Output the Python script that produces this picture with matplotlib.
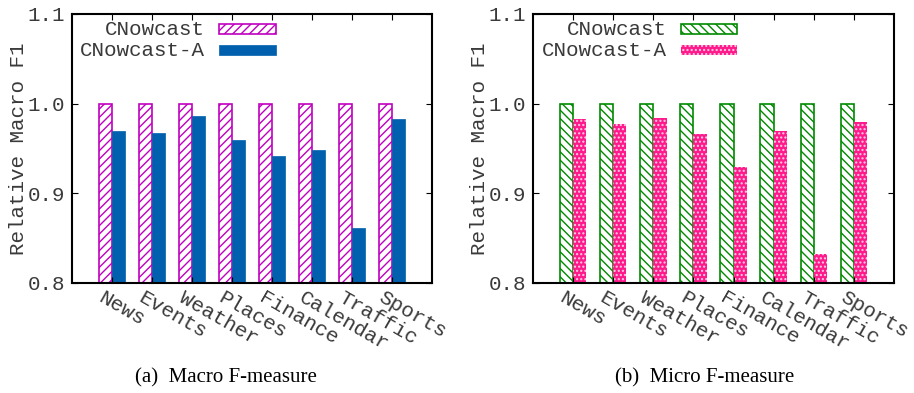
import matplotlib
matplotlib.use('Agg')
import matplotlib.pyplot as plt
import matplotlib.transforms as mtransforms
from matplotlib.patches import Rectangle
import numpy as np

# data
categories = ['News', 'Events', 'Weather', 'Places', 'Finance', 'Calendar', 'Traffic', 'Sports']
macro_cnowcast = [1.0, 1.0, 1.0, 1.0, 1.0, 1.0, 1.0, 1.0]
macro_cnowcast_a = [0.970, 0.967, 0.986, 0.959, 0.942, 0.948, 0.861, 0.983]
micro_cnowcast = [1.0, 1.0, 1.0, 1.0, 1.0, 1.0, 1.0, 1.0]
micro_cnowcast_a = [0.983, 0.977, 0.984, 0.966, 0.929, 0.970, 0.832, 0.980]
series_names = ['CNowcast', 'CNowcast-A']
y_ticks = [0.8, 0.9, 1.0, 1.1]

mono = 'Liberation Mono'
fs = 15
txt_col = '#3a3a3a'
plt.rcParams['hatch.linewidth'] = 1.0

fig = plt.figure(figsize=(9.14, 3.93), dpi=100)
ax1 = fig.add_axes([72/914, 110/393, 360/914, 269/393])
ax2 = fig.add_axes([533/914, 110/393, 361/914, 269/393])

x = np.arange(len(categories))
w = 0.33

# style per panel: (face, edge, hatch) for each series
styles = {
    ax1: [dict(facecolor='white', edgecolor='#c000c0', hatch='////', linewidth=1.2),
          dict(facecolor='#0060ad', edgecolor='#0060ad', linewidth=0.5)],
    ax2: [dict(facecolor='white', edgecolor='#008a00', hatch='\\\\\\\\', linewidth=1.2),
          dict(facecolor='#ff1a8c', edgecolor='#ffd0e6', hatch='....', linewidth=0)],
}
data = {ax1: (macro_cnowcast, macro_cnowcast_a), ax2: (micro_cnowcast, micro_cnowcast_a)}

for ax in (ax1, ax2):
    s1, s2 = data[ax]
    st1, st2 = styles[ax]
    ax.bar(x - w/2, np.array(s1) - 0.8, w, bottom=0.8, **st1)
    ax.bar(x + w/2, np.array(s2) - 0.8, w, bottom=0.8, **st2)

    ax.set_xlim(-1, len(categories))
    ax.set_ylim(0.8, 1.1)
    ax.set_yticks(y_ticks)
    ax.set_yticklabels(['%.1f' % v for v in y_ticks], fontsize=fs, family=mono, color=txt_col)
    ax.set_xticks(x)
    ax.set_xticklabels([])
    # rotated category labels, gnuplot "rotate by -30" look
    trans = mtransforms.blended_transform_factory(ax.transData, ax.transAxes)
    trans = trans + mtransforms.ScaledTranslation(-0.07, -0.05, fig.dpi_scale_trans)
    for xi, name in zip(x, categories):
        ax.text(xi, 0, name, transform=trans, fontsize=fs, family=mono, color=txt_col,
                rotation=-30, ha='left', va='top', rotation_mode='anchor')
    ax.tick_params(direction='in', top=True, right=True, length=4, width=0.8, pad=5)
    ax.set_ylabel('Relative Macro F1', fontsize=fs, family=mono, color=txt_col, labelpad=0)
    for sp in ax.spines.values():
        sp.set_linewidth(1.5)

    # key, gnuplot style: text right aligned, sample box to its right
    for row, (name, st) in enumerate(zip(series_names, (st1, st2))):
        yk = 0.944 - row * 0.078
        ax.text(0.37, yk, name, transform=ax.transAxes, ha='right', va='center',
                fontsize=fs, family=mono, color=txt_col)
        ax.add_patch(Rectangle((0.409, yk - 0.02), 0.157, 0.04, transform=ax.transAxes,
                               clip_on=False, **st))

fig.text(226/914, 1 - 378/393, '(a)  Macro F-measure', ha='center', va='center',
         fontsize=15, family='Liberation Serif')
fig.text(705/914, 1 - 378/393, '(b)  Micro F-measure', ha='center', va='center',
         fontsize=15, family='Liberation Serif')

fig.savefig('out.png', dpi=100)
